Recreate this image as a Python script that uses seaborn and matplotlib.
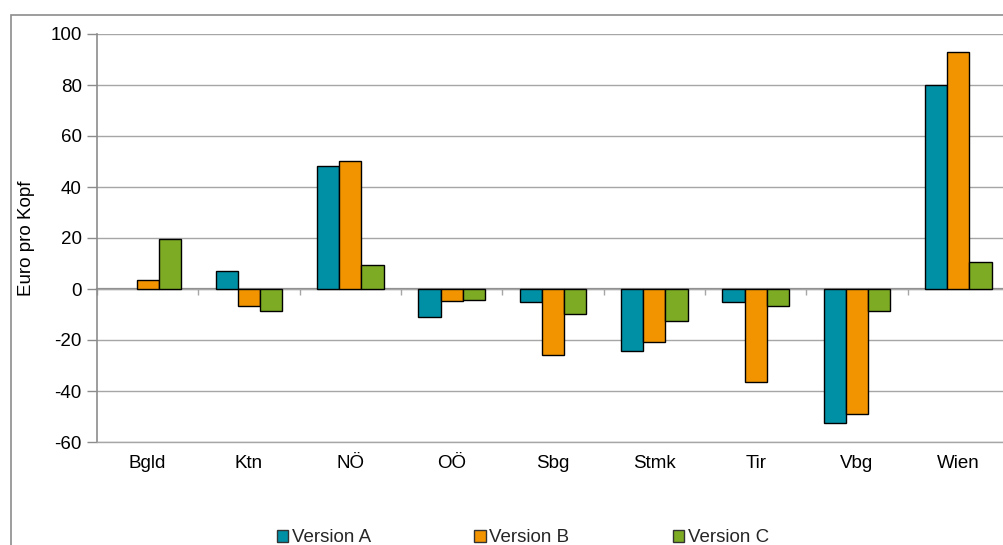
import numpy as np
import pandas as pd
import matplotlib
matplotlib.use("Agg")
import matplotlib.pyplot as plt
from matplotlib.patches import Rectangle, Patch
import seaborn as sns

# Regions and scenario values (Euro per capita)
regions = ["Bgld", "Ktn", "NÖ", "OÖ", "Sbg", "Stmk", "Tir", "Vbg", "Wien"]
version_a = [0.0, 7.2, 48.4, -11.0, -5.0, -24.2, -5.2, -52.4, 79.9]
version_b = [3.5, -6.5, 50.3, -4.7, -25.9, -20.7, -36.6, -48.9, 93.1]
version_c = [19.7, -8.6, 9.4, -4.4, -9.8, -12.5, -6.5, -8.5, 10.5]
series_names = ["Version A", "Version B", "Version C"]
colors = ["#0090A6", "#F29400", "#7DAB24"]
y_ticks = [-60, -40, -20, 0, 20, 40, 60, 80, 100]

df = pd.DataFrame({
    "Region": regions * 3,
    "Wert": version_a + version_b + version_c,
    "Version": np.repeat(series_names, len(regions)),
})

sns.set_theme(style="white")
plt.rcParams["font.family"] = ["Liberation Sans", "DejaVu Sans"]
FS = 13.5

fig = plt.figure(figsize=(10.04, 5.45), dpi=100)
ax = fig.add_axes([97 / 1004, 1 - 442 / 545, 912 / 1004, 408 / 545])

sns.barplot(data=df, x="Region", y="Wert", hue="Version", order=regions,
            hue_order=series_names, palette=colors, width=0.66, gap=0,
            edgecolor="black", linewidth=1.0, saturation=1, ax=ax,
            legend=False, zorder=3)

# zero-height bars get no outline
for bar in ax.patches:
    if bar.get_height() == 0:
        bar.set_linewidth(0)

ax.set_ylim(-60, 100)
ax.set_xlim(-0.5, len(regions) - 0.5)
ax.set_yticks(y_ticks)
ax.set_yticklabels([str(v) for v in y_ticks], fontsize=FS, color="black")
ax.yaxis.grid(True, color="#A6A6A6", linewidth=1.0, zorder=0)
ax.set_axisbelow(True)
ax.set_xlabel("")
ax.set_ylabel("Euro pro Kopf", fontsize=FS, color="black", labelpad=11)

for side in ["top", "right"]:
    ax.spines[side].set_visible(False)
ax.spines["bottom"].set_color("#A6A6A6")
ax.spines["bottom"].set_linewidth(1.0)
ax.spines["left"].set_color("#8C8C8C")
ax.spines["left"].set_linewidth(1.2)
ax.tick_params(axis="y", direction="out", length=7, width=1, color="#8C8C8C", pad=4, left=True)
ax.tick_params(axis="x", length=0, pad=9, labelsize=FS, labelcolor="black")

# Category axis crossing at zero, ticks between the categories
zero_frac = (0 - (-60)) / (100 - (-60))
sec = ax.secondary_xaxis(zero_frac)
sec.set_xticks(np.arange(len(regions) + 1) - 0.5)
sec.set_xticklabels([])
sec.spines["bottom"].set_color("#8C8C8C")
sec.spines["bottom"].set_linewidth(1.6)
sec.tick_params(axis="x", direction="out", length=4, width=1, color="#A6A6A6")

# Legend below the plot
handles = [Patch(facecolor=c, edgecolor="#333333", linewidth=1.0) for c in colors]
fig.legend(handles, series_names, loc="center", ncol=3,
           bbox_to_anchor=(523 / 1004, 1 - 538 / 545), frameon=False,
           fontsize=FS, handlelength=0.6, handleheight=0.6,
           handletextpad=0.2, columnspacing=5.5, borderpad=0)

# Outer chart frame
fig.patches.append(Rectangle((11.5 / 1004, -0.1), 1.2, 1.1 - 14.5 / 545,
                             transform=fig.transFigure, fill=False,
                             edgecolor="#8C8C8C", linewidth=1.2))

fig.savefig("out.png", dpi=100)
